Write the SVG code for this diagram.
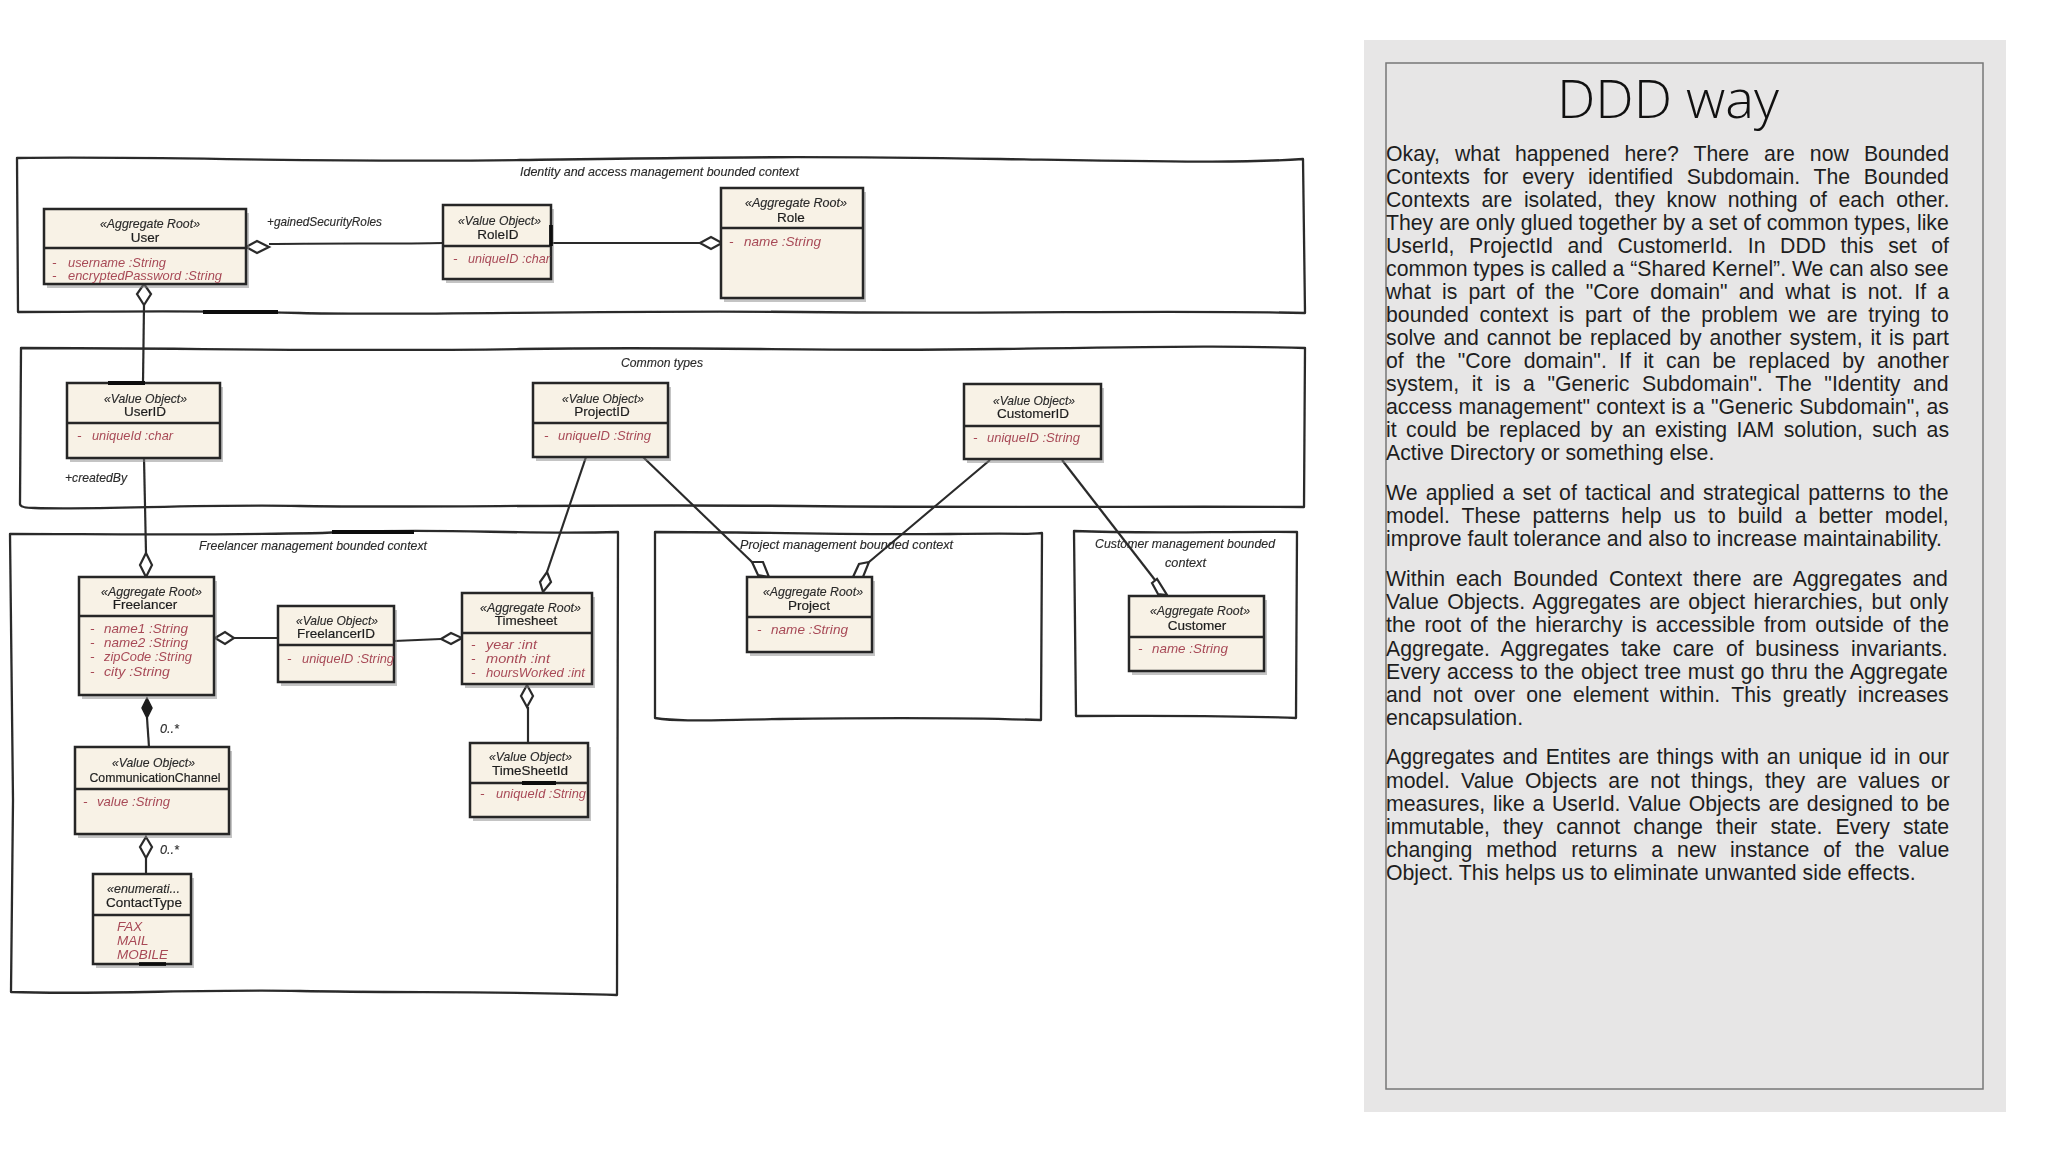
<svg xmlns="http://www.w3.org/2000/svg" width="2048" height="1152" viewBox="0 0 2048 1152">
<style>
.fr{fill:none;stroke:#2b2b2b;stroke-width:2.3;stroke-linejoin:round}
.th{stroke:#111;stroke-width:3.8;fill:none}
.bx{fill:#f8f2e6;stroke:#262626;stroke-width:2.5}
.sh{fill:#8a8a8a;opacity:.5}
.dv{stroke:#262626;stroke-width:2.4;fill:none}
.cn{stroke:#2b2b2b;stroke-width:2.2;fill:none}
.od{fill:#fff;stroke:#2b2b2b;stroke-width:2.2}
.fd{fill:#1c1c1c;stroke:#1c1c1c;stroke-width:1.5}
.h{font-family:"Liberation Sans",Arial,sans-serif;font-style:italic;font-size:13.5px;fill:#2a2a2a;stroke:#2a2a2a;stroke-width:.15}
.n{font-family:"Liberation Sans",Arial,sans-serif;font-size:13.5px;fill:#1f1f1f;stroke:#1f1f1f;stroke-width:.2;text-anchor:middle}
.a{font-family:"Liberation Sans",Arial,sans-serif;font-style:italic;font-size:13.5px;fill:#a84a57}
.p{font-family:"Liberation Sans",Arial,sans-serif;font-size:21.25px;fill:#1e1e1e}
</style>
<defs><filter id="soft" x="-2%" y="-2%" width="104%" height="104%"><feGaussianBlur stdDeviation="0.5"/></filter></defs>
<rect width="2048" height="1152" fill="#fff"/>
<g id="diagram" filter="url(#soft)">
<g id="frames">
<g id="ctx-identity">
<path class="fr" d="M17 158C180 156 300 163 520 160S800 156 1000 159 1240 163 1303 159L1305 313C1180 310 1000 314 800 312S400 316 300 313 100 312 18 312Z"/>
<path class="th" d="M203 312H278"/>
<text class="h" x="520" y="176" textLength="279" lengthAdjust="spacingAndGlyphs">Identity and access management bounded context</text>
</g>
<g id="ctx-common">
<path class="fr" d="M21 348C200 348 320 352 520 349S800 352 1000 349 1240 346 1305 348L1304 507C1180 506 1000 508 800 506S400 508 300 506 100 510 35 508Q20 508 20 504Z"/>
<text class="h" x="621" y="367" textLength="82" lengthAdjust="spacingAndGlyphs">Common types</text>
</g>
<g id="ctx-freelancer">
<path class="fr" d="M10 534C100 534 250 536 350 532S520 535 618 532L617 995C500 991 400 993 300 991S100 995 11 992L13 800Z"/>
<path class="th" d="M332 532H414"/>
<text class="h" x="199" y="550" textLength="228" lengthAdjust="spacingAndGlyphs">Freelancer management bounded context</text>
</g>
<g id="ctx-project">
<path class="fr" d="M655 532C760 532 850 535 950 534S1020 535 1042 533L1041 720C950 717 850 718 780 719S680 722 655 718Z"/>
<text class="h" x="740" y="549" textLength="213" lengthAdjust="spacingAndGlyphs">Project management bounded context</text>
</g>
<g id="ctx-customer">
<path class="fr" d="M1074 531C1150 534 1230 531 1297 532L1296 718C1220 715 1150 716 1076 716Z"/>
<text class="h" x="1095" y="548" textLength="180" lengthAdjust="spacingAndGlyphs">Customer management bounded</text>
<text class="h" x="1165" y="567" textLength="41" lengthAdjust="spacingAndGlyphs">context</text>
</g>
</g>
<g id="connectors">
<path class="cn" d="M269 244C320 243 400 244 443 243"/><path class="cn" d="M552 243H700"/>
<path class="cn" d="M144 305 143 383"/><path class="cn" d="M144 458 146 553"/>
<path class="cn" d="M586 457 547 572"/><path class="cn" d="M643 457 752 562"/>
<path class="cn" d="M990 460 869 562"/><path class="cn" d="M1062 460 1155 580"/>
<path class="cn" d="M234 638H278"/><path class="cn" d="M394 641 441 639"/>
<path class="cn" d="M147 718 149 747"/><path class="cn" d="M528 707V743"/><path class="cn" d="M146 858V874"/>
<polygon class="od" points="246,247 257,241 269,247 257,253"/>
<polygon class="od" points="700,243 711,237 722,243 711,249"/>
<polygon class="od" points="144,284 151,294 144,305 137,294"/>
<polygon class="od" points="146,553 152,565 146,577 140,565"/>
<polygon class="od" points="547,572 551,582 543,592 540,582"/>
<polygon class="od" points="752,562 763,562 769,577 758,575"/>
<polygon class="od" points="869,562 859,564 853,577 863,577"/>
<polygon class="od" points="1152,583 1157,579 1167,595 1158,594"/>
<polygon class="od" points="215,638 225,632 234,638 225,644"/>
<polygon class="od" points="441,639 451,633 462,638 451,644"/>
<polygon class="fd" points="147,698 152,708 147,718 142,708"/>
<polygon class="od" points="527,685 533,696 527,707 521,696"/>
<polygon class="od" points="146,837 152,847 146,858 140,847"/>
<text class="h" x="267" y="226" textLength="115" lengthAdjust="spacingAndGlyphs">+gainedSecurityRoles</text>
<text class="h" x="65" y="482" textLength="62" lengthAdjust="spacingAndGlyphs">+createdBy</text>
<text class="h" x="160" y="733" textLength="19" lengthAdjust="spacingAndGlyphs">0..*</text>
<text class="h" x="160" y="854" textLength="19" lengthAdjust="spacingAndGlyphs">0..*</text>
</g>
<g id="user"><rect class="sh" x="47" y="213" width="202" height="75"/><rect class="bx" x="44" y="209" width="202" height="75"/><path class="dv" d="M44 248H246"/>
<text class="h" x="100" y="228" textLength="100" lengthAdjust="spacingAndGlyphs">«Aggregate Root»</text><text class="n" x="145" y="242">User</text>
<text class="a"><tspan x="52" y="267">-</tspan><tspan x="68" y="267" textLength="98" lengthAdjust="spacingAndGlyphs">username :String</tspan></text>
<text class="a"><tspan x="52" y="280">-</tspan><tspan x="68" y="280" textLength="154" lengthAdjust="spacingAndGlyphs">encryptedPassword :String</tspan></text></g>
<g id="roleid"><rect class="sh" x="446" y="209" width="108" height="74"/><rect class="bx" x="443" y="205" width="108" height="74"/><path class="dv" d="M443 246H551"/><path class="th" d="M551 225V246"/>
<text class="h" x="458" y="225" textLength="83" lengthAdjust="spacingAndGlyphs">«Value Object»</text><text class="n" x="498" y="239">RoleID</text>
<text class="a"><tspan x="453" y="263">-</tspan><tspan x="468" y="263" textLength="82" lengthAdjust="spacingAndGlyphs">uniqueID :char</tspan></text></g>
<g id="role"><rect class="sh" x="724" y="192" width="142" height="110"/><rect class="bx" x="721" y="188" width="142" height="110"/><path class="dv" d="M721 228H863"/>
<text class="h" x="745" y="207" textLength="102" lengthAdjust="spacingAndGlyphs">«Aggregate Root»</text><text class="n" x="791" y="222">Role</text>
<text class="a"><tspan x="729" y="246">-</tspan><tspan x="744" y="246" textLength="77" lengthAdjust="spacingAndGlyphs">name :String</tspan></text></g>
<g id="userid"><rect class="sh" x="70" y="387" width="153" height="75"/><rect class="bx" x="67" y="383" width="153" height="75"/><path class="dv" d="M67 423H220"/><path class="th" d="M108 383H145"/>
<text class="h" x="104" y="403" textLength="83" lengthAdjust="spacingAndGlyphs">«Value Object»</text><text class="n" x="145" y="416">UserID</text>
<text class="a"><tspan x="77" y="440">-</tspan><tspan x="92" y="440" textLength="81" lengthAdjust="spacingAndGlyphs">uniqueId :char</tspan></text></g>
<g id="projectid"><rect class="sh" x="536" y="387" width="135" height="74"/><rect class="bx" x="533" y="383" width="135" height="74"/><path class="dv" d="M533 423H668"/>
<text class="h" x="562" y="403" textLength="82" lengthAdjust="spacingAndGlyphs">«Value Object»</text><text class="n" x="602" y="416">ProjectID</text>
<text class="a"><tspan x="544" y="440">-</tspan><tspan x="558" y="440" textLength="93" lengthAdjust="spacingAndGlyphs">uniqueID :String</tspan></text></g>
<g id="customerid"><rect class="sh" x="967" y="388" width="137" height="75"/><rect class="bx" x="964" y="384" width="137" height="75"/><path class="dv" d="M964 426H1101"/>
<text class="h" x="993" y="405" textLength="82" lengthAdjust="spacingAndGlyphs">«Value Object»</text><text class="n" x="1033" y="418">CustomerID</text>
<text class="a"><tspan x="973" y="442">-</tspan><tspan x="987" y="442" textLength="93" lengthAdjust="spacingAndGlyphs">uniqueID :String</tspan></text></g>
<g id="freelancer"><rect class="sh" x="82" y="581" width="135" height="118"/><rect class="bx" x="79" y="577" width="135" height="118"/><path class="dv" d="M79 616H214"/>
<text class="h" x="101" y="596" textLength="101" lengthAdjust="spacingAndGlyphs">«Aggregate Root»</text><text class="n" x="145" y="609">Freelancer</text>
<text class="a"><tspan x="90" y="633">-</tspan><tspan x="104" y="633" textLength="84" lengthAdjust="spacingAndGlyphs">name1 :String</tspan></text>
<text class="a"><tspan x="90" y="647">-</tspan><tspan x="104" y="647" textLength="84" lengthAdjust="spacingAndGlyphs">name2 :String</tspan></text>
<text class="a"><tspan x="90" y="661">-</tspan><tspan x="104" y="661" textLength="88" lengthAdjust="spacingAndGlyphs">zipCode :String</tspan></text>
<text class="a"><tspan x="90" y="676">-</tspan><tspan x="104" y="676" textLength="66" lengthAdjust="spacingAndGlyphs">city :String</tspan></text></g>
<g id="freelancerid"><rect class="sh" x="281" y="610" width="116" height="76"/><rect class="bx" x="278" y="606" width="116" height="76"/><path class="dv" d="M278 645H394"/>
<text class="h" x="296" y="625" textLength="82" lengthAdjust="spacingAndGlyphs">«Value Object»</text><text class="n" x="336" y="638">FreelancerID</text>
<text class="a"><tspan x="287" y="663">-</tspan><tspan x="302" y="663" textLength="92" lengthAdjust="spacingAndGlyphs">uniqueID :String</tspan></text></g>
<g id="timesheet"><rect class="sh" x="465" y="597" width="130" height="91"/><rect class="bx" x="462" y="593" width="130" height="91"/><path class="dv" d="M462 633H592"/>
<text class="h" x="480" y="612" textLength="101" lengthAdjust="spacingAndGlyphs">«Aggregate Root»</text><text class="n" x="526" y="625">Timesheet</text>
<text class="a"><tspan x="471" y="649">-</tspan><tspan x="486" y="649" textLength="51" lengthAdjust="spacingAndGlyphs">year :int</tspan></text>
<text class="a"><tspan x="471" y="663">-</tspan><tspan x="486" y="663" textLength="64" lengthAdjust="spacingAndGlyphs">month :int</tspan></text>
<text class="a"><tspan x="471" y="677">-</tspan><tspan x="486" y="677" textLength="99" lengthAdjust="spacingAndGlyphs">hoursWorked :int</tspan></text></g>
<g id="timesheetid"><rect class="sh" x="473" y="747" width="118" height="74"/><rect class="bx" x="470" y="743" width="118" height="74"/><path class="dv" d="M470 783H588"/><path class="th" d="M522 783H556"/>
<text class="h" x="489" y="761" textLength="83" lengthAdjust="spacingAndGlyphs">«Value Object»</text><text class="n" x="530" y="775">TimeSheetId</text>
<text class="a"><tspan x="480" y="798">-</tspan><tspan x="496" y="798" textLength="90" lengthAdjust="spacingAndGlyphs">uniqueId :String</tspan></text></g>
<g id="communicationchannel"><rect class="sh" x="78" y="751" width="154" height="87"/><rect class="bx" x="75" y="747" width="154" height="87"/><path class="dv" d="M75 789H229"/>
<text class="h" x="112" y="767" textLength="83" lengthAdjust="spacingAndGlyphs">«Value Object»</text><text class="n" x="155" y="782" textLength="131" lengthAdjust="spacingAndGlyphs">CommunicationChannel</text>
<text class="a"><tspan x="83" y="806">-</tspan><tspan x="97" y="806" textLength="73" lengthAdjust="spacingAndGlyphs">value :String</tspan></text></g>
<g id="contacttype"><rect class="sh" x="96" y="878" width="98" height="90"/><rect class="bx" x="93" y="874" width="98" height="90"/><path class="dv" d="M93 915H191"/><path class="th" d="M139 964H166"/>
<text class="h" x="107" y="893" textLength="73" lengthAdjust="spacingAndGlyphs">«enumerati...</text><text class="n" x="144" y="907">ContactType</text>
<text class="a" x="117" y="931">FAX</text><text class="a" x="117" y="945">MAIL</text><text class="a" x="117" y="959">MOBILE</text></g>
<g id="project"><rect class="sh" x="750" y="581" width="125" height="75"/><rect class="bx" x="747" y="577" width="125" height="75"/><path class="dv" d="M747 617H872"/>
<text class="h" x="763" y="596" textLength="100" lengthAdjust="spacingAndGlyphs">«Aggregate Root»</text><text class="n" x="809" y="610">Project</text>
<text class="a"><tspan x="757" y="634">-</tspan><tspan x="771" y="634" textLength="77" lengthAdjust="spacingAndGlyphs">name :String</tspan></text></g>
<g id="customer"><rect class="sh" x="1132" y="600" width="135" height="75"/><rect class="bx" x="1129" y="596" width="135" height="75"/><path class="dv" d="M1129 637H1264"/>
<text class="h" x="1150" y="615" textLength="100" lengthAdjust="spacingAndGlyphs">«Aggregate Root»</text><text class="n" x="1197" y="630">Customer</text>
<text class="a"><tspan x="1138" y="653">-</tspan><tspan x="1152" y="653" textLength="76" lengthAdjust="spacingAndGlyphs">name :String</tspan></text></g>
</g>
<g id="panel">
<rect x="1364" y="40" width="642" height="1072" fill="#e7e6e6"/>
<rect x="1386" y="63" width="597" height="1026" fill="none" stroke="#777" stroke-width="1.5"/>
<text x="1668" y="118" text-anchor="middle" font-family="'Open Sans',sans-serif" font-weight="300" font-size="53" fill="#111" textLength="222" lengthAdjust="spacingAndGlyphs">DDD way</text>
<text class="p" x="1386" y="161" word-spacing="9.15">Okay, what happened here? There are now Bounded</text>
<text class="p" x="1386" y="184" word-spacing="7.85">Contexts for every identified Subdomain. The Bounded</text>
<text class="p" x="1386" y="207" word-spacing="5.75">Contexts are isolated, they know nothing of each other.</text>
<text class="p" x="1386" y="230" word-spacing="0.05">They are only glued together by a set of common types, like</text>
<text class="p" x="1386" y="253" word-spacing="8.65">UserId, ProjectId and CustomerId. In DDD this set of</text>
<text class="p" x="1386" y="276" word-spacing="-0.05">common types is called a “Shared Kernel”. We can also see</text>
<text class="p" x="1386" y="299" word-spacing="5.2">what is part of the "Core domain" and what is not. If a</text>
<text class="p" x="1386" y="322" word-spacing="4.9">bounded context is part of the problem we are trying to</text>
<text class="p" x="1386" y="345" word-spacing="1.95">solve and cannot be replaced by another system, it is part</text>
<text class="p" x="1386" y="368" word-spacing="6.36">of the "Core domain". If it can be replaced by another</text>
<text class="p" x="1386" y="391" word-spacing="6.7">system, it is a "Generic Subdomain". The "Identity and</text>
<text class="p" x="1386" y="414" word-spacing="0.4">access management" context is a "Generic Subdomain", as</text>
<text class="p" x="1386" y="437" word-spacing="3.5">it could be replaced by an existing IAM solution, such as</text>
<text class="p" x="1386" y="460">Active Directory or something else.</text>
<text class="p" x="1386" y="500" word-spacing="2.32">We applied a set of tactical and strategical patterns to the</text>
<text class="p" x="1386" y="523" word-spacing="6.12">model. These patterns help us to build a better model,</text>
<text class="p" x="1386" y="546">improve fault tolerance and also to increase maintainability.</text>
<text class="p" x="1386" y="586" word-spacing="5">Within each Bounded Context there are Aggregates and</text>
<text class="p" x="1386" y="609" word-spacing="2.45">Value Objects. Aggregates are object hierarchies, but only</text>
<text class="p" x="1386" y="632" word-spacing="3.03">the root of the hierarchy is accessible from outside of the</text>
<text class="p" x="1386" y="655.5" word-spacing="5.82">Aggregate. Aggregates take care of business invariants.</text>
<text class="p" x="1386" y="679" word-spacing="0.9">Every access to the object tree must go thru the Aggregate</text>
<text class="p" x="1386" y="702" word-spacing="5.42">and not over one element within. This greatly increases</text>
<text class="p" x="1386" y="725">encapsulation.</text>
<text class="p" x="1386" y="764" word-spacing="1.85">Aggregates and Entites are things with an unique id in our</text>
<text class="p" x="1386" y="787.5" word-spacing="5.35">model. Value Objects are not things, they are values or</text>
<text class="p" x="1386" y="811" word-spacing="1.8">measures, like a UserId. Value Objects are designed to be</text>
<text class="p" x="1386" y="834" word-spacing="7.2">immutable, they cannot change their state. Every state</text>
<text class="p" x="1386" y="857" word-spacing="8.1">changing method returns a new instance of the value</text>
<text class="p" x="1386" y="880">Object. This helps us to eliminate unwanted side effects.</text>
</g>
</svg>
